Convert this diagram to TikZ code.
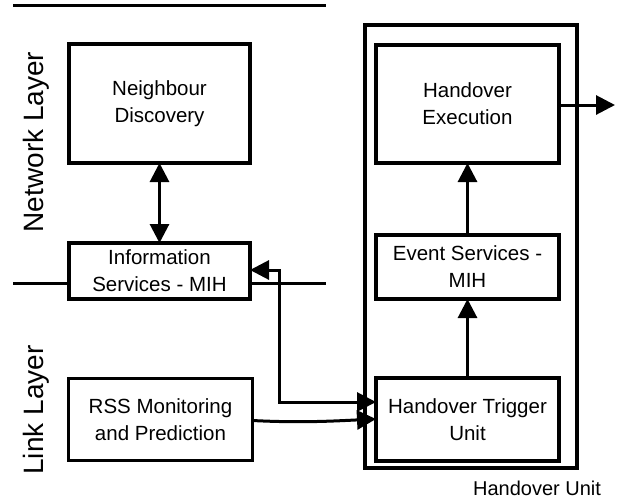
\documentclass[tikz,border=0pt]{standalone}
\usepackage{fontspec}
\setmainfont{Liberation Sans}
\usetikzlibrary{arrows.meta}
\begin{document}
\begin{tikzpicture}[x=1pt,y=-1pt,
  blk/.style={draw,line width=3.2pt,fill=white,align=center,inner sep=0pt,outer sep=0pt,
    font=\fontsize{20.5}{27}\selectfont},
  conn/.style={line width=3pt},
  tip/.style={-{Triangle[length=19pt,width=19pt]}},
  tips/.style={{Triangle[length=19pt,width=19pt]}-{Triangle[length=19pt,width=19pt]}},
  layer/.style={rotate=90,font=\fontsize{28}{32}\selectfont,inner sep=0pt}]
\useasboundingbox (0,0) rectangle (619,501);

% layer boundaries
\coordinate (top-l) at (13,5);
\coordinate (top-r) at (326,5);
\coordinate (mid-l) at (13,283);
\coordinate (mid-r) at (326,283);
\draw[conn] (top-l) -- (top-r);
\draw[conn] (mid-l) -- (mid-r);

% layer labels
\node[layer] (netlayer) at (36,142) {Network Layer};
\node[layer] (linklayer) at (36,410) {Link Layer};

% handover unit frame
\node[draw,line width=3.2pt,minimum width=212pt,minimum height=443pt,inner sep=0pt] (hu) at (471,246.5) {};
\node[font=\fontsize{20}{24}\selectfont,inner sep=0pt] (hulabel) at (537,488) {Handover Unit};

% blocks
\node[blk,minimum width=181pt,minimum height=119pt] (nd) at (159.5,103.5) {Neighbour\\Discovery};
\node[blk,minimum width=181pt,minimum height=56pt] (is) at (159.5,271) {Information\\Services - MIH};
\node[blk,minimum width=184pt,minimum height=82pt] (rss) at (160.5,419.5) {RSS Monitoring\\and Prediction};
\node[blk,minimum width=183pt,minimum height=118pt] (ex) at (467.5,104) {Handover\\Execution};
\node[blk,minimum width=183pt,minimum height=64pt] (es) at (467.5,267) {Event Services -\\MIH};
\node[blk,minimum width=183pt,minimum height=83pt] (tr) at (467.5,419.5) {Handover Trigger\\Unit};

\coordinate (out) at (615,105);
\coordinate (bend) at (279,402);

% connectors
\draw[conn,tips] (nd) -- (is);
\draw[conn,tip] (tr) -- (es);
\draw[conn,tip] (es) -- (ex);
\draw[conn,tip] (ex.east |- out) -- (out);
\draw[conn,tips] ([yshift=1pt]is.east) -| (bend) -- (tr.west |- bend);
\draw[conn,tip] ([yshift=-1pt]rss.east) .. controls (300,423) and (335,421) .. ([yshift=0.5pt]tr.west);
\end{tikzpicture}
\end{document}
